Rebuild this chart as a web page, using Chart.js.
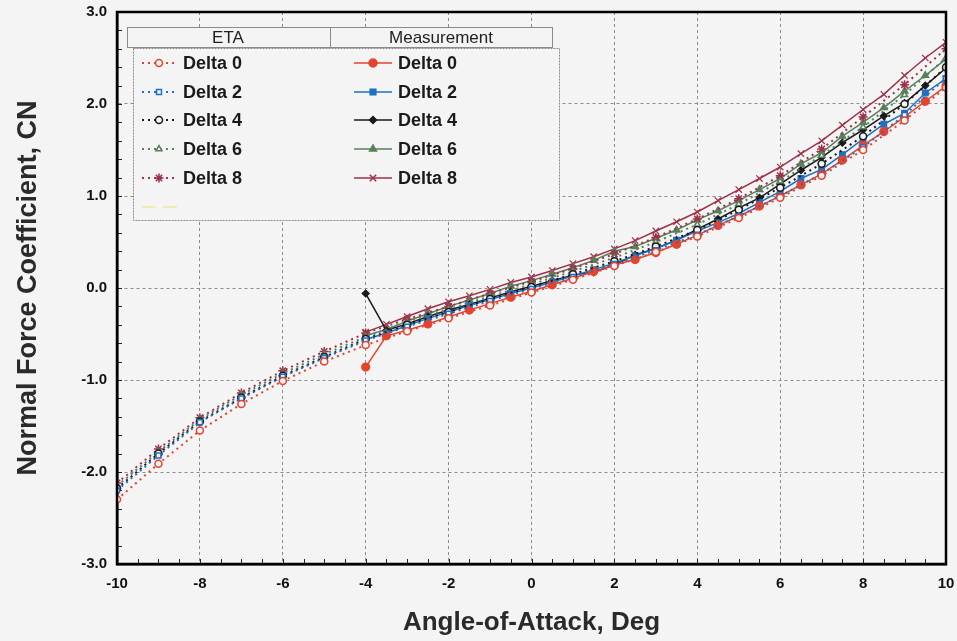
<!DOCTYPE html>
<html><head><meta charset="utf-8">
<script src="https://cdn.jsdelivr.net/npm/chart.js@4.4.1/dist/chart.umd.min.js"></script>
<style>html,body{margin:0;padding:0;background:#f4f4f4;}canvas{display:block}</style>
</head><body>
<canvas id="c" width="957" height="641"></canvas>
<script>
// ---- data ----
const etaAngles = [-10,-9,-8,-7,-6,-5,-4,-3,-2,-1,0,1,2,3,4,5,6,7,8,9,10];
const etaDelta0 = [-2.30,-1.91,-1.55,-1.26,-1.01,-0.80,-0.62,-0.47,-0.33,-0.19,-0.05,0.09,0.24,0.39,0.56,0.76,0.98,1.22,1.50,1.82,2.18];
const etaDelta2 = [-2.20,-1.82,-1.46,-1.20,-0.965,-0.76,-0.57,-0.42,-0.28,-0.14,-0.01,0.12,0.26,0.41,0.58,0.78,1.00,1.24,1.53,1.88,2.28];
const etaDelta4 = [-2.18,-1.80,-1.45,-1.19,-0.955,-0.75,-0.555,-0.40,-0.26,-0.12,0.01,0.15,0.29,0.45,0.63,0.85,1.09,1.35,1.65,2.00,2.40];
const etaDelta6 = [-2.15,-1.78,-1.43,-1.16,-0.93,-0.72,-0.53,-0.37,-0.23,-0.09,0.04,0.18,0.33,0.50,0.69,0.91,1.16,1.44,1.75,2.10,2.50];
const etaDelta8 = [-2.12,-1.75,-1.41,-1.14,-0.90,-0.69,-0.49,-0.34,-0.20,-0.06,0.07,0.21,0.37,0.55,0.75,0.97,1.22,1.51,1.86,2.21,2.60];

const measAngles = [-4,-3.5,-3,-2.5,-2,-1.5,-1,-0.5,0,0.5,1,1.5,2,2.5,3,3.5,4,4.5,5,5.5,6,6.5,7,7.5,8,8.5,9,9.5,10];
const measDelta0 = [-0.86,-0.52,-0.46,-0.39,-0.315,-0.24,-0.17,-0.10,-0.035,0.035,0.105,0.18,0.25,0.31,0.385,0.475,0.575,0.68,0.78,0.89,1.00,1.12,1.24,1.39,1.55,1.70,1.86,2.03,2.195];
const measDelta2 = [-0.56,-0.49,-0.41,-0.33,-0.26,-0.19,-0.125,-0.06,0.0,0.065,0.13,0.20,0.27,0.35,0.43,0.52,0.62,0.71,0.81,0.93,1.05,1.19,1.29,1.45,1.62,1.78,1.90,2.12,2.275];
const measDelta4 = [-0.06,-0.46,-0.39,-0.31,-0.24,-0.18,-0.11,-0.04,0.02,0.08,0.14,0.17,0.25,0.36,0.43,0.52,0.64,0.75,0.87,0.98,1.13,1.28,1.42,1.58,1.72,1.87,2.01,2.20,2.39];
const measDelta6 = [-0.52,-0.45,-0.36,-0.28,-0.20,-0.13,-0.06,0.02,0.08,0.15,0.22,0.30,0.40,0.45,0.54,0.63,0.74,0.84,0.95,1.07,1.19,1.35,1.47,1.65,1.80,1.96,2.14,2.31,2.49];
const measDelta8 = [-0.48,-0.395,-0.31,-0.225,-0.15,-0.085,-0.015,0.06,0.12,0.19,0.265,0.34,0.425,0.515,0.62,0.72,0.826,0.95,1.07,1.19,1.315,1.46,1.60,1.77,1.94,2.105,2.31,2.50,2.67];

const seriesLabels = ['Delta 0','Delta 2','Delta 4','Delta 6','Delta 8'];
const xTickValues = [-10,-8,-6,-4,-2,0,2,4,6,8,10];
const yTickValues = [-3,-2,-1,0,1,2,3];

// ---- styles ----
const BG = '#f4f4f4';
const colors = ['#e5432d','#1f6fc2','#1a1a1a','#587f5c','#9e3048'];
const etaStyles = ['circle','rect','circle','triangle','star'];
const measStyles = ['circle','rect','rectRot','triangle','crossRot'];
const etaData = [etaDelta0,etaDelta2,etaDelta4,etaDelta6,etaDelta8];
const measData = [measDelta0,measDelta2,measDelta4,measDelta6,measDelta8];

const pts = (xs, ys) => xs.map((x,i)=>({x:x, y:ys[i]}));
const datasets = [];
etaData.forEach((d,i)=>{
  datasets.push({
    label:'ETA '+seriesLabels[i], data:pts(etaAngles,d),
    borderColor:colors[i], borderWidth:2, borderDash:[2,4],
    pointStyle:etaStyles[i], pointRadius: i===4?4.5:3.5,
    pointBackgroundColor:BG, pointBorderColor:colors[i], pointBorderWidth:1.5,
    fill:false, tension:0
  });
});
measData.forEach((d,i)=>{
  datasets.push({
    label:'Measurement '+seriesLabels[i], data:pts(measAngles,d),
    borderColor:colors[i], borderWidth:1.5,
    pointStyle:measStyles[i], pointRadius: i===2?3.5:(i===4?4.5:4),
    pointBackgroundColor:colors[i], pointBorderColor:colors[i], pointBorderWidth:1.2,
    fill:false, tension:0
  });
});

const frameAndLegend = {
  id:'frameAndLegend',
  beforeDatasetsDraw(chart){
    const {ctx, chartArea:a, scales:{x,y}} = chart;
    ctx.save();
    ctx.strokeStyle='#222'; ctx.lineWidth=1;
    for(let v=-3; v<=3.0001; v+=0.2){
      const py=Math.round(y.getPixelForValue(v))+0.5;
      ctx.beginPath(); ctx.moveTo(a.left, py); ctx.lineTo(a.left+5, py); ctx.stroke();
    }
    for(let v=-10; v<=10.0001; v+=0.5){
      const px=Math.round(x.getPixelForValue(v))+0.5;
      ctx.beginPath(); ctx.moveTo(px, a.bottom); ctx.lineTo(px, a.bottom-5); ctx.stroke();
    }
    ctx.restore();
  },
  afterDraw(chart){
    const {ctx, chartArea:a} = chart;
    ctx.save();
    ctx.strokeStyle='#000'; ctx.lineWidth=2.5;
    ctx.strokeRect(a.left, a.top, a.right-a.left, a.bottom-a.top);
    // legend body
    ctx.fillStyle=BG; ctx.fillRect(133,48,426,172);
    ctx.setLineDash([2,1]); ctx.strokeStyle='#8a8a8a'; ctx.lineWidth=1;
    ctx.strokeRect(133.5,48.5,426,172);
    ctx.setLineDash([]);
    ctx.fillStyle=BG; ctx.fillRect(127,27,426,20);
    ctx.strokeStyle='#8a8a8a';
    ctx.strokeRect(127.5,27.5,203,20); ctx.strokeRect(330.5,27.5,222,20);
    ctx.fillStyle='#222'; ctx.font='17px "Liberation Sans", Arial, sans-serif';
    ctx.textAlign='center'; ctx.textBaseline='middle';
    ctx.fillText('ETA',228,38); ctx.fillText('Measurement',441,38);
    const rows=[63,92,120,149,178];
    rows.forEach((ry,i)=>{
      const e = chart.data.datasets[i], m = chart.data.datasets[i+5];
      ctx.strokeStyle=colors[i]; ctx.lineWidth=2; ctx.setLineDash([2,4]);
      ctx.beginPath(); ctx.moveTo(142,ry); ctx.lineTo(178,ry); ctx.stroke();
      ctx.setLineDash([]);
      ctx.fillStyle=BG; ctx.strokeStyle=colors[i]; ctx.lineWidth=1.5;
      Chart.helpers.drawPoint(ctx,{pointStyle:e.pointStyle, radius:e.pointRadius, rotation:0, borderWidth:1.5},159,ry);
      ctx.strokeStyle=colors[i]; ctx.lineWidth=1.5;
      ctx.beginPath(); ctx.moveTo(354,ry); ctx.lineTo(392,ry); ctx.stroke();
      ctx.fillStyle=colors[i];
      Chart.helpers.drawPoint(ctx,{pointStyle:m.pointStyle, radius:m.pointRadius, rotation:0, borderWidth:1.2},373,ry);
      ctx.fillStyle='#1a1a1a'; ctx.font='bold 18px "Liberation Sans", Arial, sans-serif';
      ctx.textAlign='left'; ctx.textBaseline='middle';
      ctx.fillText(seriesLabels[i],183,ry+1);
      ctx.fillText(seriesLabels[i],398,ry+1);
    });
    ctx.strokeStyle='#efe9a0'; ctx.lineWidth=1.5;
    ctx.beginPath(); ctx.moveTo(142,207); ctx.lineTo(156,207); ctx.moveTo(163,207); ctx.lineTo(177,207); ctx.stroke();
    ctx.restore();
  }
};

new Chart(document.getElementById('c'), {
  type:'line',
  data:{datasets},
  options:{
    responsive:false, animation:false, devicePixelRatio:1,
    layout:{padding:{left:0,right:11,top:12,bottom:0}},
    plugins:{legend:{display:false}, tooltip:{enabled:false}},
    scales:{
      x:{type:'linear', min:-10, max:10,
        afterBuildTicks(s){ s.ticks = xTickValues.map(v=>({value:v})); },
        afterFit(s){ s.height = 77; s.paddingLeft = 0; s.paddingRight = 0; },
        grid:{color:'#8c8c8c', lineWidth:1, drawTicks:false},
        border:{display:true, color:'#000', width:2.5, dash:[3,3]},
        ticks:{padding:11, color:'#111', font:{family:'"Liberation Sans", Arial, sans-serif', size:15, weight:'bold'},
          callback:v=>String(v)},
        title:{display:true, text:'Angle-of-Attack, Deg', color:'#2a2a2a',
          font:{family:'"Liberation Sans", Arial, sans-serif', size:26, weight:'bold'}, padding:{top:0,bottom:3}}
      },
      y:{type:'linear', min:-3, max:3,
        afterBuildTicks(s){ s.ticks = yTickValues.map(v=>({value:v})); },
        afterFit(s){ s.width = 117; s.paddingTop = 0; s.paddingBottom = 0; },
        grid:{color:'#8c8c8c', lineWidth:1, drawTicks:false},
        border:{display:true, color:'#000', width:2.5, dash:[3,3]},
        ticks:{padding:10, color:'#111', font:{family:'"Liberation Sans", Arial, sans-serif', size:15, weight:'bold'},
          callback:v=>Number(v).toFixed(1)},
        title:{display:true, text:'Normal Force Coefficient, CN', color:'#2a2a2a',
          font:{family:'"Liberation Sans", Arial, sans-serif', size:27, weight:'bold'}, padding:{top:12,bottom:0}}
      }
    }
  },
  plugins:[frameAndLegend]
});
</script>
</body></html>
